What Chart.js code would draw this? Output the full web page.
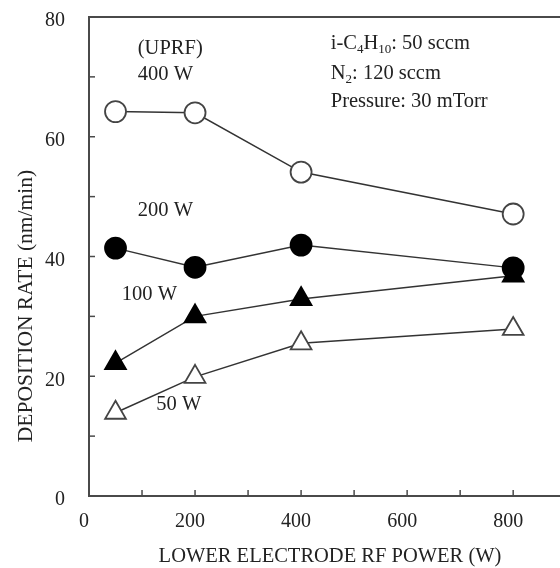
<!DOCTYPE html>
<html>
<head>
<meta charset="utf-8">
<title>Deposition rate vs lower electrode RF power</title>
<script src="https://cdn.jsdelivr.net/npm/chart.js@4.4.1/dist/chart.umd.min.js"></script>
<style>
  html, body { margin: 0; padding: 0; background: #fff; overflow: hidden; }
  #wrap { width: 560px; height: 568px; overflow: hidden; }
</style>
</head>
<body>
<div id="wrap"><canvas id="rateChart" width="580" height="568"></canvas></div>
<script>
// Deposition rate (nm/min) per upper RF power, vs lower electrode RF power (W)
const rfPower = [50, 200, 400, 800];
const rate400W = [64.2, 64.0, 54.1, 47.1];
const rate200W = [41.4, 38.2, 41.9, 38.1];
const rate100W = [22.2, 30.0, 32.9, 36.8];
const rate50W = [13.9, 19.9, 25.5, 27.9];
const xTickLabels = [0, 200, 400, 600, 800];
const yTickLabels = [0, 20, 40, 60, 80];

const FONT = "'Liberation Serif', 'Times New Roman', serif";
const AXIS = '#4a4a4a';
const LINE = '#333';

function toPoints(ys) {
  return rfPower.map((x, i) => ({ x: x, y: ys[i] }));
}

function series(label, ys, style, filled) {
  return {
    label: label,
    data: toPoints(ys),
    borderColor: LINE,
    borderWidth: 1.5,
    pointStyle: style,
    pointRadius: style === 'triangle' ? 12 : 10.5,
    pointHoverRadius: style === 'triangle' ? 12 : 10.5,
    pointBackgroundColor: filled ? '#000' : '#fff',
    pointBorderColor: filled ? '#000' : '#444',
    pointBorderWidth: 1.8,
    tension: 0,
    clip: false
  };
}

// draws runs of text, some of them as subscripts
function richText(ctx, x, y, runs) {
  let cx = x;
  runs.forEach(r => {
    const sub = typeof r !== 'string';
    const t = sub ? r.sub : r;
    ctx.font = (sub ? '13px ' : '20.5px ') + FONT;
    ctx.fillText(t, cx, sub ? y + 6 : y);
    cx += ctx.measureText(t).width;
  });
}

const frame = {
  id: 'frame',
  beforeDatasetsDraw(chart) {
    const ctx = chart.ctx;
    const area = chart.chartArea;
    const xs = chart.scales.x;
    const ys = chart.scales.y;
    ctx.save();
    ctx.strokeStyle = AXIS;
    ctx.lineWidth = 2;
    // top border
    ctx.beginPath();
    ctx.moveTo(area.left, area.top);
    ctx.lineTo(area.right + 20, area.top);
    ctx.stroke();
    // inward ticks
    ctx.lineWidth = 1.5;
    xs.ticks.forEach(t => {
      const px = xs.getPixelForValue(t.value);
      ctx.beginPath();
      ctx.moveTo(px, area.bottom);
      ctx.lineTo(px, area.bottom - 6);
      ctx.stroke();
    });
    ys.ticks.forEach(t => {
      const py = ys.getPixelForValue(t.value);
      ctx.beginPath();
      ctx.moveTo(area.left, py);
      ctx.lineTo(area.left + 6, py);
      ctx.stroke();
    });
    ctx.restore();
  },
  afterDraw(chart) {
    const ctx = chart.ctx;
    const xs = chart.scales.x;
    const ys = chart.scales.y;
    const at = (x, y) => [xs.getPixelForValue(x), ys.getPixelForValue(y)];
    ctx.save();
    ctx.fillStyle = '#222';
    ctx.textBaseline = 'middle';
    ctx.textAlign = 'left';
    ctx.font = '20.5px ' + FONT;

    const notes = [
      ['(UPRF)', 92, 74.8],
      ['400 W', 92, 70.3],
      ['200 W', 92, 47.6],
      ['100 W', 62, 33.7],
      ['50 W', 127, 15.2]
    ];
    notes.forEach(n => {
      const p = at(n[1], n[2]);
      ctx.fillText(n[0], p[0], p[1]);
    });

    let p = at(456, 75.5);
    richText(ctx, p[0], p[1], ['i-C', { sub: '4' }, 'H', { sub: '10' }, ': 50 sccm']);
    p = at(456, 70.6);
    richText(ctx, p[0], p[1], ['N', { sub: '2' }, ': 120 sccm']);
    p = at(456, 65.8);
    richText(ctx, p[0], p[1], ['Pressure: 30 mTorr']);

    // axis titles
    ctx.textAlign = 'center';
    ctx.font = '20.5px ' + FONT;
    ctx.fillText('LOWER ELECTRODE RF POWER (W)', 330, 557);
    ctx.translate(26, 306);
    ctx.rotate(-Math.PI / 2);
    ctx.font = '21.5px ' + FONT;
    ctx.fillText('DEPOSITION RATE (nm/min)', 0, 0);
    ctx.restore();
  }
};

Chart.defaults.font.family = FONT;
Chart.defaults.color = '#222';

new Chart(document.getElementById('rateChart'), {
  type: 'line',
  data: {
    datasets: [
      series('400 W', rate400W, 'circle', false),
      series('200 W', rate200W, 'circle', true),
      series('100 W', rate100W, 'triangle', true),
      series('50 W', rate50W, 'triangle', false)
    ]
  },
  options: {
    responsive: false,
    animation: false,
    layout: { padding: { top: 17, right: 10, left: 0, bottom: 0 } },
    plugins: {
      legend: { display: false },
      tooltip: { enabled: false }
    },
    scales: {
      x: {
        type: 'linear',
        min: 0,
        max: 900,
        grid: { display: false, drawTicks: false },
        border: { display: true, color: AXIS, width: 2 },
        ticks: {
          stepSize: 100,
          autoSkip: false,
          maxRotation: 0,
          padding: 14,
          labelOffset: -5,
          font: { size: 20 },
          callback: v => xTickLabels.includes(v) ? String(v) : ''
        },
        afterFit: s => {
          s.height = 72;
          s.paddingLeft = 0;
          s.paddingRight = 0;
        }
      },
      y: {
        min: 0,
        max: 80,
        grid: { display: false, drawTicks: false },
        border: { display: true, color: AXIS, width: 2 },
        ticks: {
          stepSize: 10,
          autoSkip: false,
          padding: 24,
          labelOffset: 4,
          font: { size: 20 },
          callback: v => yTickLabels.includes(v) ? String(v) : ''
        },
        afterFit: s => {
          s.width = 89;
          s.paddingTop = 0;
          s.paddingBottom = 0;
        }
      }
    }
  },
  plugins: [frame]
});
</script>
</body>
</html>
